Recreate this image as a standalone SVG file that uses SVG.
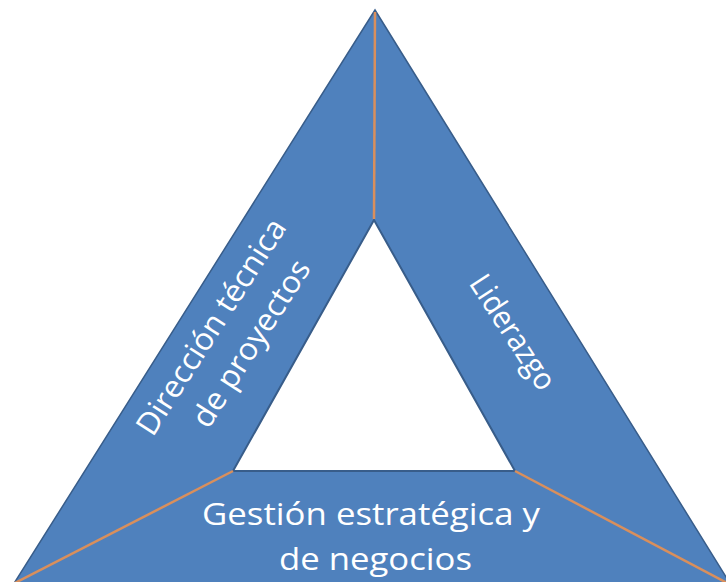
<svg xmlns="http://www.w3.org/2000/svg" width="726" height="582" viewBox="0 0 726 582">
  <style>
    .shape { fill: #4F81BD; stroke: #385D8A; stroke-width: 1.5; stroke-linejoin: miter; }
    .hole { fill: #FFFFFF; stroke: #385D8A; stroke-width: 2; }
    .divider { stroke: #D98F5C; stroke-width: 2.5; fill: none; }
    .label { font-family: "Open Sans", "Liberation Sans", sans-serif; font-size: 31px; fill: #FFFFFF; text-anchor: middle; }
  </style>
  <rect width="726" height="582" fill="#FFFFFF"/>
  <g id="triangle">
    <path class="shape" d="M375,10 L731,585 L13,585 Z"/>
    <path class="hole" d="M374,220 L515,471 L233,471 Z"/>
  </g>
  <g id="connectors">
    <line class="divider" x1="375" y1="12" x2="374" y2="219"/>
    <line class="divider" x1="233" y1="471" x2="13" y2="584"/>
    <line class="divider" x1="515" y1="471" x2="729" y2="584"/>
  </g>
  <g id="node-direccion">
    <text class="label" transform="translate(220,332.5) rotate(-57.4)" textLength="250" lengthAdjust="spacingAndGlyphs">Dirección técnica</text>
    <text class="label" transform="translate(260,349) rotate(-57.4)" textLength="192" lengthAdjust="spacingAndGlyphs">de proyectos</text>
  </g>
  <g id="node-liderazgo">
    <text class="label" transform="translate(504,338) rotate(56.8)" textLength="131" lengthAdjust="spacingAndGlyphs">Liderazgo</text>
  </g>
  <g id="node-gestion">
    <text class="label" x="371" y="525" textLength="338" lengthAdjust="spacingAndGlyphs">Gestión estratégica y</text>
    <text class="label" x="375.5" y="570" textLength="193" lengthAdjust="spacingAndGlyphs">de negocios</text>
  </g>
</svg>
